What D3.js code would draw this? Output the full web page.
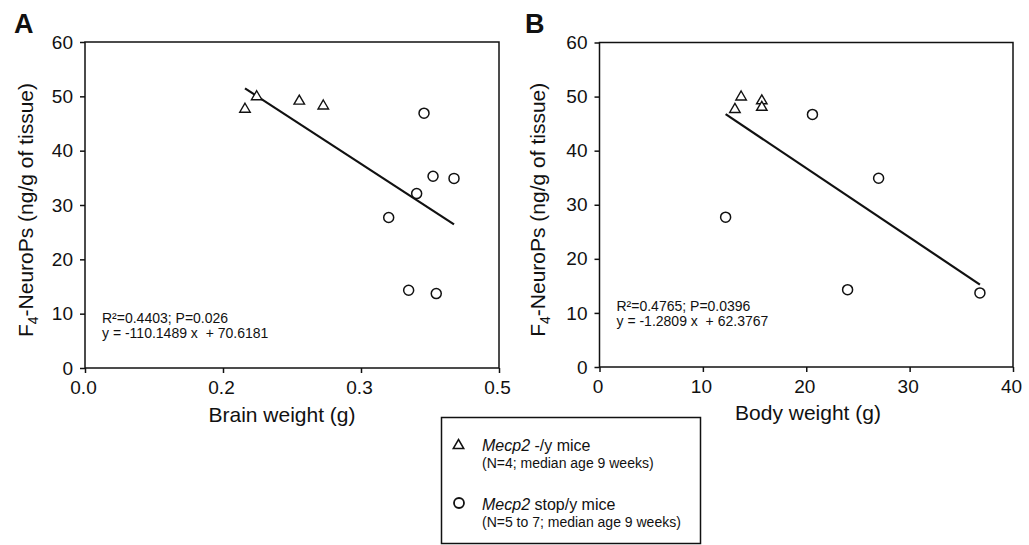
<!DOCTYPE html>
<html>
<head>
<meta charset="utf-8">
<script src="https://cdn.jsdelivr.net/npm/d3@7"></script>
<style>
  body { margin: 0; background: #fff; }
  svg text { font-family: Arial, "Liberation Sans", sans-serif; fill: #111; }
</style>
</head>
<body>
<svg id="chart" width="1029" height="545"></svg>
<script>
// panel A: brain weight (g) vs F4-NeuroPs
var brainTri = [0.1739, 0.1866, 0.2329, 0.2590];
var neuroTriA = [47.9, 50.2, 49.4, 48.5];
var brainCirc = [0.3685, 0.3783, 0.4011, 0.3605, 0.3301, 0.3518, 0.3818];
var neuroCircA = [46.9, 35.3, 34.9, 32.1, 27.7, 14.3, 13.7];

// panel B: body weight (g) vs F4-NeuroPs
var bodyTri = [13.1, 13.7, 15.7, 15.7];
var neuroTriB = [47.9, 50.2, 49.5, 48.3];
var bodyCirc = [12.2, 20.6, 27.0, 24.0, 36.8];
var neuroCircB = [27.7, 46.7, 34.9, 14.3, 13.7];

// regression coefficients printed on the chart
var fitA = [-110.1489, 70.6181];
var fitB = [-1.2809, 62.3767];

var yTicks = [0, 10, 20, 30, 40, 50, 60];
var xTicksA = [0, 0.15, 0.30, 0.45];
var xLabelsA = ["0.0", "0.2", "0.3", "0.5"];
var xTicksB = [0, 10, 20, 30, 40];

var statsA = ["R\u00b2=0.4403; P=0.026", "y = -110.1489 x  + 70.6181"];
var statsB = ["R\u00b2=0.4765; P=0.0396", "y = -1.2809 x  + 62.3767"];

var svg = d3.select('#chart');

function triPath(cx, cy) {
  var h = 9, w = 10.5;
  return "M" + cx + " " + (cy - h / 2) + " L" + (cx + w / 2) + " " + (cy + h / 2) +
    " L" + (cx - w / 2) + " " + (cy + h / 2) + " Z";
}

function drawPanel(p) {
  var g = svg.append('g');
  var x = d3.scaleLinear().domain(p.xDomain).range([p.left, p.right]);
  var y = d3.scaleLinear().domain([0, 60]).range([p.bottom, p.top]);

  // frame
  g.append('rect')
    .attr('x', p.left).attr('y', p.top)
    .attr('width', p.right - p.left).attr('height', p.bottom - p.top)
    .attr('fill', 'none').attr('stroke', '#111').attr('stroke-width', 1.5);

  var ya = g.append('g')
    .attr('transform', 'translate(' + p.left + ',0)')
    .call(d3.axisLeft(y).tickValues(yTicks).tickSize(5).tickPadding(7));
  var xa = g.append('g')
    .attr('transform', 'translate(0,' + p.bottom + ')')
    .call(d3.axisBottom(x).tickValues(p.xTicks).tickSize(5).tickPadding(8)
      .tickFormat(function(d, i) { return p.xLabels ? p.xLabels[i] : d; }));
  [ya, xa].forEach(function(a) {
    a.select('.domain').remove();
    a.selectAll('line').attr('stroke', '#111').attr('stroke-width', 1.5);
    a.selectAll('text').attr('font-size', 19).attr('fill', '#111')
      .style('font-family', 'Arial, "Liberation Sans", sans-serif');
  });
  xa.selectAll('text').attr('dx', -2);

  // regression line over data range
  var xs = p.triX.concat(p.circX);
  var ext = d3.extent(xs);
  var line = d3.line()
    .x(function(d) { return x(d); })
    .y(function(d) { return y(p.fit[0] * d + p.fit[1]); });
  g.append('path').datum(ext)
    .attr('d', line)
    .attr('fill', 'none').attr('stroke', '#111').attr('stroke-width', 2.2);

  // circles
  g.selectAll('circle.pt')
    .data(p.circX)
    .enter().append('circle')
    .attr('class', 'pt')
    .attr('cx', function(d) { return x(d); })
    .attr('cy', function(d, i) { return y(p.circY[i]); })
    .attr('r', 5)
    .attr('fill', '#fff').attr('stroke', '#111').attr('stroke-width', 1.5);

  // triangles
  g.selectAll('path.tri')
    .data(p.triX)
    .enter().append('path')
    .attr('class', 'tri')
    .attr('d', function(d, i) { return triPath(x(d), y(p.triY[i])); })
    .attr('fill', '#fff').attr('stroke', '#111').attr('stroke-width', 1.4);

  // stats text
  g.selectAll('text.stat')
    .data(p.stats)
    .enter().append('text')
    .attr('class', 'stat')
    .attr('x', p.left + 17)
    .attr('y', function(d, i) { return p.statY + i * 14.5; })
    .attr('font-size', 14)
    .style('white-space', 'pre')
    .text(function(d) { return d; });

  // panel letter
  g.append('text')
    .attr('x', p.letterX).attr('y', 33)
    .attr('font-size', 27).attr('font-weight', 'bold')
    .text(p.letter);

  // axis titles
  g.append('text')
    .attr('x', p.xTitleX).attr('y', p.xTitleY)
    .attr('text-anchor', 'middle').attr('font-size', 21)
    .text(p.xTitle);

  var yt = g.append('text')
    .attr('transform', 'translate(' + p.yTitleX + ',' + ((p.top + p.bottom) / 2 + 5) + ') rotate(-90)')
    .attr('text-anchor', 'middle').attr('font-size', 21);
  yt.append('tspan').text('F');
  yt.append('tspan').attr('font-size', 14).attr('dy', 5).text('4');
  yt.append('tspan').attr('dy', -5).text('-NeuroPs (ng/g of tissue)');
}

drawPanel({
  letter: 'A', letterX: 14,
  left: 85, right: 499, top: 42, bottom: 368,
  xDomain: [0, 0.45], xTicks: xTicksA, xLabels: xLabelsA,
  triX: brainTri, triY: neuroTriA, circX: brainCirc, circY: neuroCircA,
  fit: fitA, stats: statsA, statY: 323,
  xTitle: 'Brain weight (g)', xTitleX: 282, xTitleY: 422, yTitleX: 33
});

drawPanel({
  letter: 'B', letterX: 525,
  left: 599.5, right: 1013, top: 42.5, bottom: 367,
  xDomain: [0, 40], xTicks: xTicksB, xLabels: null,
  triX: bodyTri, triY: neuroTriB, circX: bodyCirc, circY: neuroCircB,
  fit: fitB, stats: statsB, statY: 311,
  xTitle: 'Body weight (g)', xTitleX: 808, xTitleY: 420, yTitleX: 545
});

// legend
var legendMain = [["Mecp2", " -/y mice"], ["Mecp2", " stop/y mice"]];
var legendSub = ["(N=4; median age 9 weeks)", "(N=5 to 7; median age 9 weeks)"];
var legendShape = ["triangle", "circle"];

var lg = svg.append('g');
lg.append('rect')
  .attr('x', 441.5).attr('y', 417.5).attr('width', 259).attr('height', 126)
  .attr('fill', '#fff').attr('stroke', '#111').attr('stroke-width', 1.5);

var rowY = d3.scaleLinear().domain([0, 1]).range([451, 510]);

legendShape.forEach(function(s, i) {
  var cy = rowY(i) - 7;
  if (s === 'triangle') {
    lg.append('path').attr('d', triPath(458.5, cy))
      .attr('fill', '#fff').attr('stroke', '#111').attr('stroke-width', 1.5);
  } else {
    lg.append('circle').attr('cx', 459).attr('cy', cy).attr('r', 5)
      .attr('fill', '#fff').attr('stroke', '#111').attr('stroke-width', 1.8);
  }
  var t = lg.append('text').attr('x', 482).attr('y', rowY(i)).attr('font-size', 16);
  t.append('tspan').attr('font-style', 'italic').text(legendMain[i][0]);
  t.append('tspan').style('white-space', 'pre').text(legendMain[i][1]);
  lg.append('text').attr('x', 482).attr('y', rowY(i) + 17)
    .attr('font-size', 14).text(legendSub[i]);
});
</script>
</body>
</html>
